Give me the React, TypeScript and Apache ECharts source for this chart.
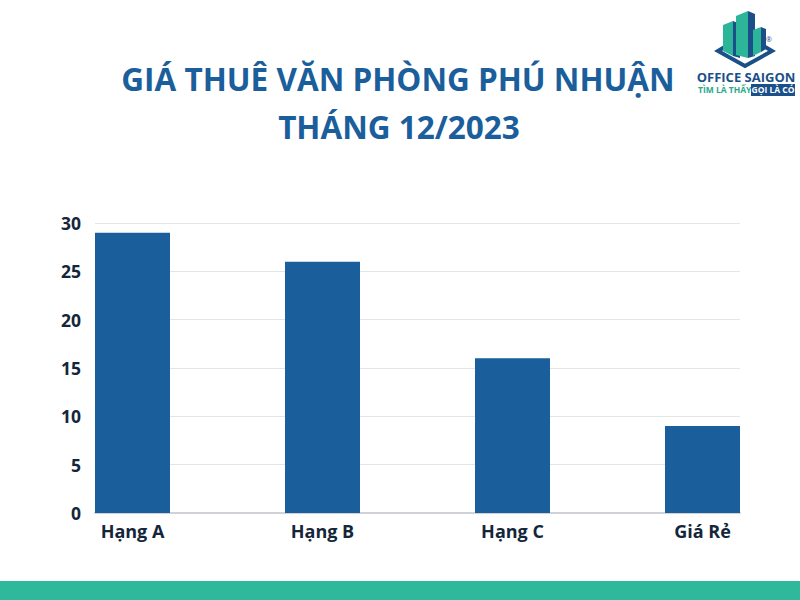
import React, { useEffect, useRef } from "react";
import * as echarts from "echarts";

const categories = ["Hạng A", "Hạng B", "Hạng C", "Giá Rẻ"];
const values = [29, 26, 16, 9];
const yTicks = [0, 5, 10, 15, 20, 25, 30];
const titleLines = ["GIÁ THUÊ VĂN PHÒNG PHÚ NHUẬN", "THÁNG 12/2023"];

const FONT = "'Open Sans', 'Noto Sans', sans-serif";
const BLUE = "#1b5e9c";
const DARK = "#13263a";

export default function App() {
  const ref = useRef<HTMLDivElement>(null);
  useEffect(() => {
    if (!ref.current) return;
    const chart = echarts.init(ref.current, null, { renderer: "svg" });
    const half = 37.5 / 190;
    const option: any = {
      animation: false,
      backgroundColor: "#ffffff",
      grid: { left: 95, right: 60, top: 223, bottom: 87, containLabel: false },
      xAxis: {
        type: "value",
        min: -half,
        max: categories.length - 1 + half,
        splitLine: { show: false },
        axisLine: { show: true, onZero: false, lineStyle: { color: "#cfd3d8", width: 2 } },
        axisTick: { show: false },
        axisLabel: {
          customValues: categories.map((_, i) => i),
          formatter: (v: number) => categories[Math.round(v)] ?? "",
          color: DARK,
          fontFamily: FONT,
          fontWeight: "bold",
          fontSize: 18,
          margin: 9,
          showMinLabel: true,
          showMaxLabel: true,
        },
      },
      yAxis: {
        type: "value",
        min: 0,
        max: 30,
        interval: 5,
        axisLine: { show: false },
        axisTick: { show: false },
        splitLine: { show: true, lineStyle: { color: "#e3e5e8", width: 1 } },
        axisLabel: {
          color: DARK,
          fontFamily: FONT,
          fontWeight: "bold",
          fontSize: 17.5,
          margin: 14,
          formatter: (v: number) => (yTicks.includes(v) ? String(v) : ""),
        },
      },
      series: [
        {
          type: "bar",
          data: values.map((v, i) => [i, v]),
          barWidth: 75,
          itemStyle: { color: BLUE },
        },
      ],
      graphic: [
        {
          type: "text",
          x: 398,
          y: 62,
          style: {
            text: titleLines[0],
            fill: BLUE,
            font: `bold 31.5px ${FONT}`,
            align: "center",
          },
        },
        {
          type: "text",
          x: 399,
          y: 110,
          style: {
            text: titleLines[1],
            fill: BLUE,
            font: `bold 31.5px ${FONT}`,
            align: "center",
          },
        },
        {
          type: "rect",
          shape: { x: 0, y: 581, width: 800, height: 19 },
          style: { fill: "#2fb89b" },
        },
        // logo
        {
          type: "group",
          children: [
            { type: "polyline", shape: { points: [[733, 42], [718, 51], [745, 66], [772, 51], [757, 42]] }, style: { stroke: "#1a4f8a", lineWidth: 4, fill: "none" } },
            { type: "polygon", shape: { points: [[723, 25], [733, 21], [733, 56], [723, 51]] }, style: { fill: "#2db59a" } },
            { type: "polygon", shape: { points: [[733, 21], [740, 24], [740, 58], [733, 56]] }, style: { fill: "#1a4f8a" } },
            { type: "polygon", shape: { points: [[736, 16], [748, 11], [748, 58], [736, 55]] }, style: { fill: "#2db59a" } },
            { type: "polygon", shape: { points: [[748, 11], [755, 14], [755, 56], [748, 58]] }, style: { fill: "#1a4f8a" } },
            { type: "polygon", shape: { points: [[753, 30], [761, 27], [761, 52], [753, 56]] }, style: { fill: "#2db59a" } },
            { type: "polygon", shape: { points: [[761, 27], [766, 29], [766, 49], [761, 52]] }, style: { fill: "#1a4f8a" } },
            { type: "text", x: 766, y: 36, style: { text: "®", fill: "#1a4f8a", font: `7px ${FONT}` } },
            { type: "text", x: 746, y: 70, style: { text: "OFFICE SAIGON", fill: "#1a4f8a", font: `bold 13px 'Liberation Sans Narrow', ${FONT}`, align: "center" } },
            { type: "text", x: 698, y: 85, style: { text: "TÌM LÀ THẤY", fill: "#2aa88c", font: `bold 8.5px ${FONT}` } },
            { type: "rect", shape: { x: 751, y: 84, width: 44, height: 12 }, style: { fill: "#1a4f8a" } },
            { type: "text", x: 773, y: 85, style: { text: "GỌI LÀ CÓ", fill: "#ffffff", font: `bold 8.5px ${FONT}`, align: "center" } },
          ],
        },
      ],
    };
    chart.setOption(option);
    return () => chart.dispose();
  }, []);
  return (
    <div
      ref={ref}
      style={{ position: "fixed", left: 0, top: 0, width: 800, height: 600 }}
    />
  );
}
